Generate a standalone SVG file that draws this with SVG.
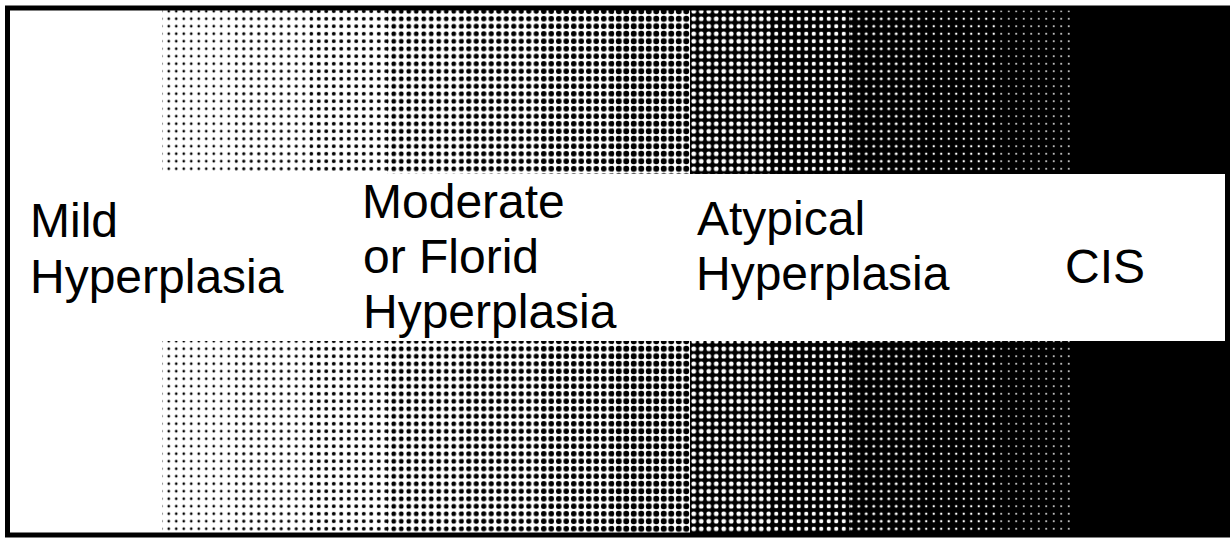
<svg xmlns="http://www.w3.org/2000/svg" width="1230" height="540" viewBox="0 0 1230 540">
<style>
.lbl{font-family:"Liberation Sans",Arial,Helvetica,sans-serif;font-size:48px;fill:#000}
</style>
<defs>
<pattern id="b1" patternUnits="userSpaceOnUse" width="7.5" height="7.5"><rect width="7.5" height="7.5" fill="#fff"/><circle cx="3.75" cy="3.75" r="1.34" fill="#000"/></pattern>
<pattern id="b2" patternUnits="userSpaceOnUse" width="7.5" height="7.5"><rect width="7.5" height="7.5" fill="#fff"/><circle cx="3.75" cy="3.75" r="1.64" fill="#000"/></pattern>
<pattern id="b3" patternUnits="userSpaceOnUse" width="7.5" height="7.5"><rect width="7.5" height="7.5" fill="#fff"/><circle cx="3.75" cy="3.75" r="1.98" fill="#000"/></pattern>
<pattern id="b4" patternUnits="userSpaceOnUse" width="7.5" height="7.5"><rect width="7.5" height="7.5" fill="#fff"/><circle cx="3.75" cy="3.75" r="2.39" fill="#000"/></pattern>
<pattern id="b5" patternUnits="userSpaceOnUse" width="7.5" height="7.5"><rect width="7.5" height="7.5" fill="#fff"/><circle cx="3.75" cy="3.75" r="2.61" fill="#000"/></pattern>
<pattern id="b6" patternUnits="userSpaceOnUse" width="7.5" height="7.5"><rect width="7.5" height="7.5" fill="#fff"/><circle cx="3.75" cy="3.75" r="2.81" fill="#000"/></pattern>
<pattern id="b7" patternUnits="userSpaceOnUse" width="7.5" height="7.5"><rect width="7.5" height="7.5" fill="#fff"/><circle cx="3.75" cy="3.75" r="3.0" fill="#000"/></pattern>
<pattern id="w8" patternUnits="userSpaceOnUse" width="7.5" height="7.5"><rect width="7.5" height="7.5" fill="#000"/><circle cx="3.75" cy="3.75" r="2.4" fill="#fff"/></pattern>
<pattern id="w9" patternUnits="userSpaceOnUse" width="7.5" height="7.5"><rect width="7.5" height="7.5" fill="#000"/><circle cx="3.75" cy="3.75" r="2.1" fill="#fff"/></pattern>
<pattern id="w10" patternUnits="userSpaceOnUse" width="7.5" height="7.5"><rect width="7.5" height="7.5" fill="#000"/><circle cx="3.75" cy="3.75" r="1.5" fill="#fff"/></pattern>
<pattern id="w11" patternUnits="userSpaceOnUse" width="7.5" height="7.5"><rect width="7.5" height="7.5" fill="#000"/><circle cx="3.75" cy="3.75" r="1.2" fill="#fff"/></pattern>
<pattern id="w12" patternUnits="userSpaceOnUse" width="7.5" height="7.5"><rect width="7.5" height="7.5" fill="#000"/><circle cx="3.75" cy="3.75" r="0.9" fill="#fff"/></pattern>
</defs>
<rect x="0" y="0" width="1230" height="540" fill="#fff"/>
<g id="tone-scale">
<rect x="162" y="8" width="73" height="527" fill="url(#b1)"/>
<rect x="235" y="8" width="75" height="527" fill="url(#b2)"/>
<rect x="310" y="8" width="77" height="527" fill="url(#b3)"/>
<rect x="387" y="8" width="75" height="527" fill="url(#b4)"/>
<rect x="462" y="8" width="78" height="527" fill="url(#b5)"/>
<rect x="540" y="8" width="72" height="527" fill="url(#b6)"/>
<rect x="612" y="8" width="78" height="527" fill="url(#b7)"/>
<rect x="690" y="8" width="80" height="527" fill="url(#w8)"/>
<rect x="770" y="8" width="80" height="527" fill="url(#w9)"/>
<rect x="850" y="8" width="73" height="527" fill="url(#w10)"/>
<rect x="923" y="8" width="74" height="527" fill="url(#w11)"/>
<rect x="997" y="8" width="73" height="527" fill="url(#w12)"/>
<rect x="1070" y="8" width="160" height="527" fill="#000"/>
</g>
<rect id="label-band" x="8" y="174" width="1219" height="167" fill="#fff"/>
<rect id="frame" x="7.5" y="8" width="1220" height="527" fill="none" stroke="#000" stroke-width="5"/>
<g id="mild">
<text class="lbl" x="30" y="237">Mild</text>
<text class="lbl" x="30" y="293">Hyperplasia</text>
</g>
<g id="moderate">
<text class="lbl" x="362" y="218">Moderate</text>
<text class="lbl" x="363" y="273">or Florid</text>
<text class="lbl" x="363" y="328">Hyperplasia</text>
</g>
<g id="atypical">
<text class="lbl" x="697" y="235">Atypical</text>
<text class="lbl" x="696" y="290">Hyperplasia</text>
</g>
<g id="cis">
<text class="lbl" x="1065" y="283">CIS</text>
</g>
<g id="connectors"/>
</svg>
